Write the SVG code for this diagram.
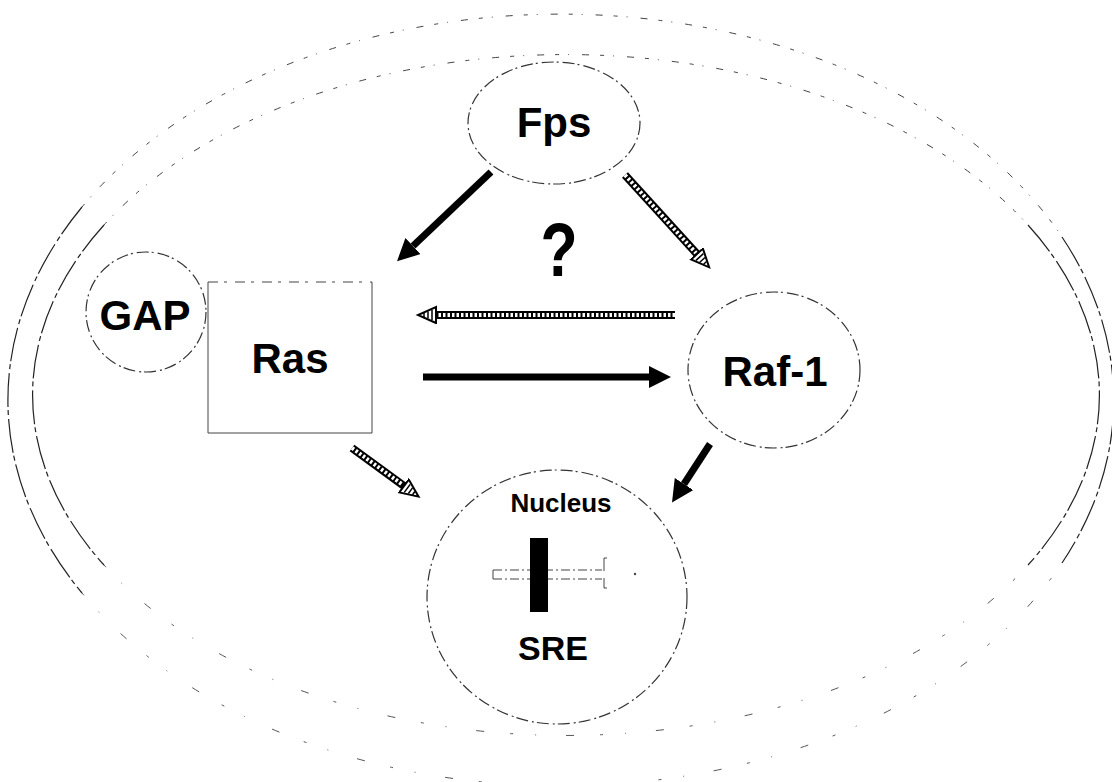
<svg xmlns="http://www.w3.org/2000/svg" width="1112" height="782" viewBox="0 0 1112 782">
  <style>
    .memSide { fill: none; stroke: #222; stroke-width: 1.2; stroke-dasharray: 34 3 5 4; }
    .memSparse { fill: none; stroke: #444; stroke-width: 1; stroke-dasharray: 4 9 1 13 7 11; }
    .memFaint { fill: none; stroke: #555; stroke-width: 1; stroke-dasharray: 3 22 1 30 8 26; }
    .node { fill: #fff; stroke: #333; stroke-width: 1.2; stroke-dasharray: 12 3 2 4; }
    .label { font-family: "Liberation Sans", Arial, sans-serif; font-weight: bold; fill: #000; text-anchor: middle; }
    .solid { stroke: #000; stroke-width: 7; fill: none; marker-end: url(#headSolid); }
    .hatchBase { stroke: #000; stroke-width: 8; fill: none; marker-end: url(#headHatch); }
    .hatchTop { stroke: #fff; stroke-width: 4; fill: none; stroke-dasharray: 2.5 2; }
    .thin { fill: none; stroke: #444; stroke-width: 1; }
  </style>
  <defs>
    <marker id="headSolid" markerUnits="userSpaceOnUse" markerWidth="24" markerHeight="24" refX="0" refY="11" orient="auto">
      <path d="M0,0 L22,11 L0,22 z" fill="#000"/>
    </marker>
    <marker id="headHatch" markerUnits="userSpaceOnUse" markerWidth="22" markerHeight="20" refX="1" refY="9" orient="auto">
      <path d="M1,1 L19,9 L1,17 z" fill="#fff" stroke="#000" stroke-width="2"/>
      <path d="M5,4 L5,14 M9,5.5 L9,12.5 M13,7 L13,11" stroke="#000" stroke-width="1.5"/>
    </marker>
  </defs>

  <rect width="1112" height="782" fill="#fff"/>

  <!-- cell membrane (double line): firm at the sides, broken along top, faint at the bottom -->
  <g id="membrane">
    <!-- outer line: cx 561, cy 400, rx 553, ry 386 -->
    <path class="memSide" d="M82,207 A553,386 0 0 0 82,593"/>
    <path class="memSide" d="M1062,237 A553,386 0 0 1 1062,563"/>
    <path class="memSparse" d="M82,207 A553,386 0 0 1 1062,237"/>
    <path class="memFaint" d="M82,593 A553,386 0 0 0 1062,563"/>
    <!-- inner line: cx 566, cy 395, rx 533, ry 340 -->
    <path class="memSide" d="M104,225 A533,340 0 0 0 104,565"/>
    <path class="memSide" d="M1028,225 A533,340 0 0 1 1028,565"/>
    <path class="memSparse" d="M104,225 A533,340 0 0 1 1028,225"/>
    <path class="memFaint" d="M104,565 A533,340 0 0 0 1028,565"/>
  </g>

  <g id="connectors">
    <!-- Fps -> Ras -->
    <line class="solid" x1="491" y1="172" x2="413" y2="246"/>
    <!-- Fps -> Raf-1 (hatched) -->
    <line class="hatchBase" x1="625" y1="175" x2="697" y2="254"/>
    <line class="hatchTop" x1="625" y1="175" x2="696" y2="253"/>
    <!-- Raf-1 -> Ras (hatched) -->
    <line class="hatchBase" x1="675" y1="315" x2="436" y2="315"/>
    <line class="hatchTop" x1="675" y1="315" x2="437" y2="315"/>
    <!-- Ras -> Raf-1 -->
    <line class="solid" x1="423" y1="377" x2="649" y2="377"/>
    <!-- Ras -> Nucleus (hatched) -->
    <line class="hatchBase" x1="352" y1="448" x2="404" y2="486"/>
    <line class="hatchTop" x1="352" y1="448" x2="403" y2="485"/>
    <!-- Raf-1 -> Nucleus -->
    <line class="solid" x1="710" y1="444" x2="684" y2="484"/>
  </g>

  <g id="fps">
    <ellipse class="node" cx="554" cy="123" rx="86" ry="61"/>
    <text class="label" x="554" y="137" font-size="42">Fps</text>
  </g>

  <text class="label" x="559" y="276" font-size="64" transform="translate(559,276) scale(0.95,1.2) translate(-559,-276)">?</text>

  <g id="gap">
    <circle class="node" cx="146" cy="312" r="60"/>
    <text class="label" x="145" y="330" font-size="42">GAP</text>
  </g>

  <g id="ras">
    <rect x="208" y="282" width="164" height="151" fill="#fff" stroke="none"/>
    <path class="thin" d="M208,282 V433 H372 V282"/>
    <path class="thin" d="M208,282 H372" stroke-dasharray="10 6 3 8"/>
    <text class="label" x="290" y="373" font-size="42">Ras</text>
  </g>

  <g id="raf1">
    <ellipse class="node" cx="774" cy="370" rx="86" ry="78"/>
    <text class="label" x="775" y="386" font-size="42">Raf-1</text>
  </g>

  <g id="nucleus">
    <ellipse class="node" cx="557" cy="597" rx="130" ry="127"/>
    <text class="label" x="561" y="512" font-size="26">Nucleus</text>
    <!-- DNA strand with SRE element -->
    <path class="thin" d="M493,570 H602 M493,579 H602 M493,570 V579" stroke-dasharray="9 3 2 3"/>
    <path class="thin" d="M607,558 H604 V571 M604,578 V588 H607"/>
    <circle cx="635" cy="574" r="1.2" fill="#444"/>
    <rect x="530" y="538" width="18" height="74" fill="#000"/>
    <text class="label" x="553" y="660" font-size="34">SRE</text>
  </g>
</svg>
